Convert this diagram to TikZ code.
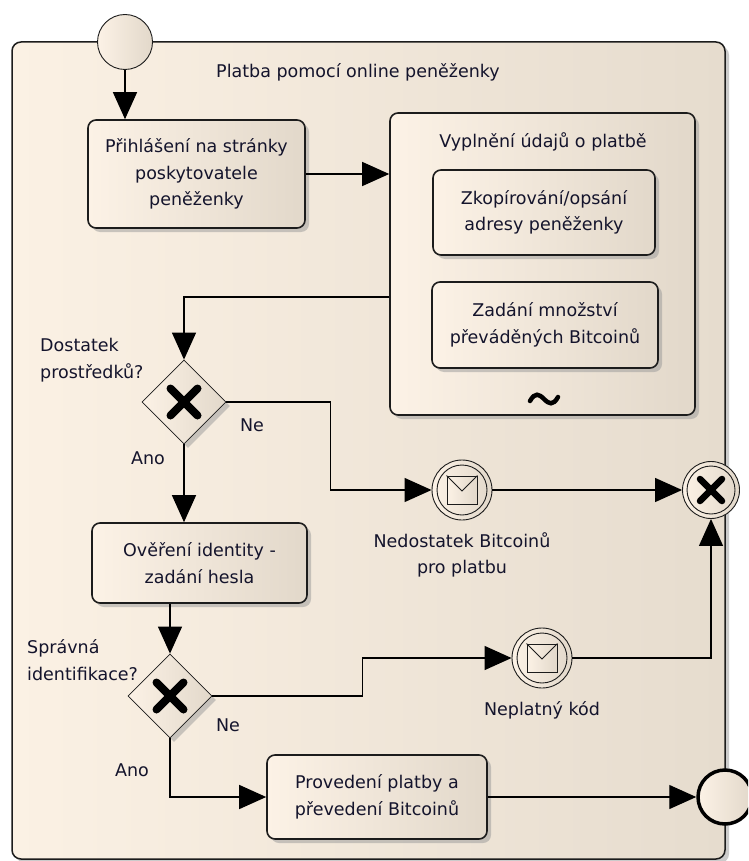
\documentclass[tikz,border=0pt]{standalone}
\usepackage{fontspec}
\setmainfont{DejaVu Sans}
\usetikzlibrary{shapes.geometric,arrows.meta,shadows,calc}
\definecolor{fillL}{RGB}{252,242,230}
\definecolor{fillR}{RGB}{226,216,202}
\definecolor{poolL}{RGB}{251,241,228}
\definecolor{poolR}{RGB}{230,220,206}
\definecolor{ink}{RGB}{20,20,44}
\definecolor{edge}{RGB}{28,28,28}

\begin{document}
\begin{tikzpicture}[x=1pt,y=-1pt,
  font=\fontsize{17.5}{26.5}\selectfont, text=ink,
  shadefill/.style={left color=fillL,right color=fillR},
  shad/.style={drop shadow={shadow xshift=4pt,shadow yshift=-4pt,fill=black!40,opacity=0.5}},
  task/.style={draw=edge,line width=1.6pt,rounded corners=8pt,shadefill,shad,align=center,inner sep=0pt},
  gateway/.style={diamond,draw=edge,line width=0.8pt,shadefill,shad,minimum width=84,minimum height=84,inner sep=0pt},
  evt/.style={circle,draw=edge,line width=0.9pt,shadefill,inner sep=0pt},
  flow/.style={draw=black,line width=1.3pt,-{Triangle[length=27pt,width=24pt]}},
  lbl/.style={inner sep=0pt,align=left},
  xmark/.style={line width=8pt,line cap=round},
]
\useasboundingbox (0,0) rectangle (748,861);
\clip (0,0) rectangle (748,861);
\fill[white] (0,0) rectangle (748,861);

% pool
\node[draw=edge,line width=1.5pt,rounded corners=9pt,left color=poolL,right color=poolR,shad,
      minimum width=713,minimum height=817,inner sep=0pt] (pool) at (368.5,450.5) {};
\node[lbl,anchor=west] (pooltitle) at (216,72) {Platba pomocí online peněženky};

% start event
\node[evt,minimum size=55] (start) at (125,42) {};

% first task
\node[task,minimum width=217,minimum height=108] (t1) at (196.5,174)
  {Přihlášení na stránky\\poskytovatele\\peněženky};

% sub-process with its two tasks
\node[task,minimum width=305,minimum height=302] (sub) at (542.5,264) {};
\node[lbl,align=center] (subtitle) at (543,142) {Vyplnění údajů o platbě};
\node[task,minimum width=222,minimum height=85] (ta) at (544,212.5) {Zkopírování/opsání\\adresy peněženky};
\node[task,minimum width=226,minimum height=86] (tb) at (545,325) {Zadání množství\\převáděných Bitcoinů};
\draw[line width=4.5pt,line cap=round] (530,401) .. controls (535,392) and (539,394) .. (544,399)
  .. controls (549,404) and (553,406) .. (558,397);

% gateway 1
\node[gateway] (gw1) at (184,402) {};
\draw[xmark] ($(gw1.center)+(-13.5,-13.5)$) -- ($(gw1.center)+(13.5,13.5)$);
\draw[xmark] ($(gw1.center)+(-13.5,13.5)$) -- ($(gw1.center)+(13.5,-13.5)$);
\node[lbl,anchor=west] (q1) at (40,360) {Dostatek\\prostředků?};
\node[lbl] (ne1) at (252,425) {Ne};
\node[lbl] (ano1) at (148,458) {Ano};

% second task
\node[task,minimum width=215,minimum height=80] (t2) at (199.5,563) {Ověření identity -\\zadání hesla};

% gateway 2
\node[gateway] (gw2) at (170,696) {};
\draw[xmark] ($(gw2.center)+(-13.5,-13.5)$) -- ($(gw2.center)+(13.5,13.5)$);
\draw[xmark] ($(gw2.center)+(-13.5,13.5)$) -- ($(gw2.center)+(13.5,-13.5)$);
\node[lbl,anchor=west] (q2) at (27,660) {Správná\\identifikace?};
\node[lbl] (ne2) at (228,725) {Ne};
\node[lbl] (ano2) at (132,770) {Ano};

% third task
\node[task,minimum width=220,minimum height=84] (t3) at (377,797) {Provedení platby a\\převedení Bitcoinů};

% message events
\foreach \m/\p in {msg1/{(462,490)},msg2/{(542,658)}}{
  \node[evt,minimum size=60] (\m) at \p {};
  \draw[edge,line width=0.9pt] (\m.center) circle (25);
  \node[draw=edge,line width=0.9pt,shadefill,minimum width=30,minimum height=28,inner sep=0pt] (\m env) at (\m.center) {};
  \draw[edge,line width=0.9pt] (\m env.north west) -- ($(\m env.center)+(0,1)$) -- (\m env.north east);
}
\node[lbl,align=center] (m1lbl) at (462,555) {Nedostatek Bitcoinů\\pro platbu};
\node[lbl] (m2lbl) at (542,710) {Neplatný kód};

% cancel end event
\node[evt,minimum size=57] (end1) at (711,490) {};
\draw[edge,line width=0.9pt] (end1.center) circle (24);
\draw[line width=6.5pt,line cap=round] ($(end1.center)+(-11,-11)$) -- ($(end1.center)+(11,11)$);
\draw[line width=6.5pt,line cap=round] ($(end1.center)+(-11,11)$) -- ($(end1.center)+(11,-11)$);

% end event
\node[circle,draw=black,line width=3.5pt,shadefill,minimum size=54,inner sep=0pt] (end2) at (725,797) {};

% sequence flows
\draw[flow] (start.south) -- (start.south |- t1.north);
\draw[flow] (t1.east) -- (t1.east -| sub.west);
\draw[flow] ([yshift=-33pt]sub.west) -| (gw1.north);
\draw[flow] (gw1.east) -- ++(104,0) |- (msg1.west);
\draw[flow] (gw1.south) -- (gw1.south |- t2.north);
\draw[flow] (gw2.north |- t2.south) -- (gw2.north);
\draw[flow] (gw2.east) -- ++(150,0) |- (msg2.west);
\draw[flow] (gw2.south) |- (t3.west);
\draw[flow] (t3.east) -- (end2.west);
\draw[flow] (msg1.east) -- (end1.west);
\draw[flow] (msg2.east) -| (end1.south);
\end{tikzpicture}
\end{document}
